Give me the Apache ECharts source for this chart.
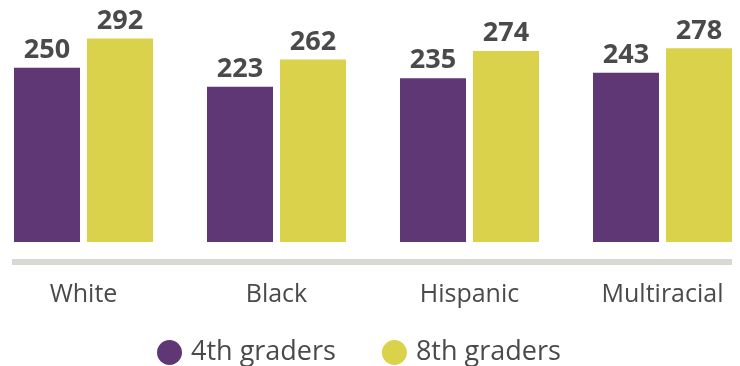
<!DOCTYPE html>
<html lang="en">
<head>
    <meta charset="UTF-8">
    <title>Scores by group</title>
    <script src="https://cdn.jsdelivr.net/npm/echarts@6/dist/echarts.min.js"></script>
    <style>
        html, body { margin: 0; padding: 0; background: #fff; }
    </style>
</head>
<body>
    <div id="main" style="width: 740px;height:366px;"></div>
    <script>
        var categories = ['White', 'Black', 'Hispanic', 'Multiracial'];
        var grade4 = [250, 223, 235, 243];
        var grade8 = [292, 262, 274, 278];
        var seriesNames = ['4th graders', '8th graders'];

        var textColor = '#4a4a4a';
        var font = '"Open Sans", "Noto Sans", sans-serif';

        var myChart = echarts.init(document.getElementById('main'));

        var labelStyle = {
            show: true,
            position: 'top',
            distance: 4,
            color: textColor,
            fontSize: 27,
            fontWeight: 'bold',
            fontFamily: font
        };

        myChart.setOption({
            animation: false,
            grid: { left: -13, right: -19, top: 33, bottom: 124, outerBoundsMode: 'none' },
            legend: {
                left: 152,
                top: 334,
                itemWidth: 25,
                itemHeight: 25,
                itemGap: 46,
                icon: 'circle',
                textStyle: { color: textColor, fontSize: 27, fontFamily: font, padding: [0, 0, 0, 4] },
                data: seriesNames
            },
            graphic: [{
                type: 'rect',
                shape: { x: 12, y: 259, width: 720, height: 6 },
                style: { fill: '#d9d9d4' },
                silent: true
            }],
            xAxis: {
                type: 'category',
                data: categories,
                axisLine: { show: false },
                axisTick: { show: false },
                axisLabel: { color: textColor, fontSize: 25, fontFamily: font, margin: 40 }
            },
            yAxis: {
                type: 'value',
                min: 0,
                max: 300,
                show: false,
                splitLine: { show: false }
            },
            series: [{
                name: seriesNames[0],
                type: 'bar',
                data: grade4,
                barWidth: 66,
                barGap: '10.6%',
                itemStyle: { color: '#5f3775' },
                label: labelStyle
            }, {
                name: seriesNames[1],
                type: 'bar',
                data: grade8,
                barWidth: 66,
                itemStyle: { color: '#d9d24a' },
                label: labelStyle
            }]
        });
    </script>
</body>
</html>
